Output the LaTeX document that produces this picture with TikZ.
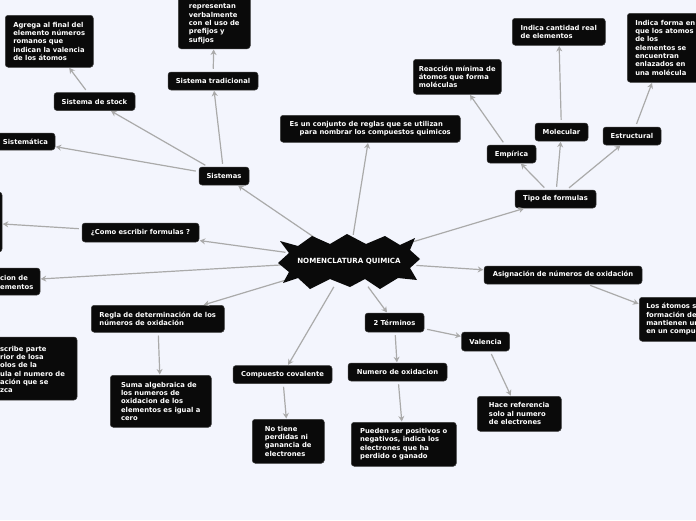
\documentclass[tikz,border=0pt]{standalone}
\usepackage{fontspec}
\setmainfont{DejaVu Sans}
\usetikzlibrary{arrows.meta,shapes.geometric}
\definecolor{bg}{RGB}{243,245,253}
\definecolor{boxc}{RGB}{10,10,10}
\definecolor{boxb}{RGB}{60,60,60}
\definecolor{edgec}{RGB}{170,170,170}
\tikzset{
  bx/.style={fill=boxc, draw=boxb, line width=0.5pt, rounded corners=3pt, text=white,
    font=\bfseries\fontsize{6.8}{8.33}\selectfont, inner xsep=7pt, inner ysep=5pt, align=left},
  sgl/.style={bx, inner ysep=0pt, align=center},
  txt/.style={text=white, font=\bfseries\fontsize{6.8}{8.33}\selectfont, inner sep=0pt, align=left},
  ed/.style={draw=edgec, line width=1.2pt, -{Stealth[length=5.5pt,width=6pt]}, shorten <=3pt, shorten >=0.5pt}
}
\begin{document}
\begin{tikzpicture}[x=1pt,y=-1pt]
\useasboundingbox (0,0) rectangle (696,520);
\clip (0,0) rectangle (696,520);
\fill[bg] (0,0) rectangle (696,520);

% central hub (outline drawn after the connectors)
\node[ellipse, minimum width=146pt, minimum height=60pt, inner sep=0pt] (c) at (349,261) {};

% top center
\node[bx, anchor=north west, inner xsep=5pt, minimum width=180pt, minimum height=27pt] (conj) at (280,115)
  {Es un conjunto de reglas que se utilizan\\\hspace*{10pt}para nombrar los compuestos quimicos};

% Sistemas branch
\node[sgl, minimum width=50pt, minimum height=18pt] (sist) at (224,176) {Sistemas};
\node[sgl, minimum width=90pt, minimum height=18pt] (trad) at (213,81) {Sistema tradicional};
\node[bx, anchor=south west, inner xsep=8pt, minimum width=72pt] (tradd) at (178,49)
  {Estos se\\representan\\verbalmente\\con el uso de\\prefijos y\\sufijos};
\node[sgl, minimum width=81pt, minimum height=18pt] (stock) at (94.5,101.5) {Sistema de stock};
\node[bx, anchor=north west, minimum width=88pt, minimum height=52pt] (agrega) at (5,15)
  {Agrega al final del\\elemento números\\romanos que\\indican la valencia\\de los átomos};
\node[sgl, minimum width=59pt, minimum height=17pt] (sistem) at (25.5,141.5) {Sistemática};

% left branches
\node[sgl, minimum width=117pt, minimum height=19pt] (como) at (140.5,232.5) {¿Como escribir formulas ?};
\node[bx, minimum width=62pt, minimum height=60pt] (lbox) at (-29,222) {};
\node[bx, minimum width=86pt, minimum height=27pt] (cion) at (-3,281.5) {};
\node[txt, anchor=west] (ciont) at (0,282.5) {cion de\\ementos};
\node[bx, minimum width=160pt, minimum height=63pt] (escr) at (-3,368.5) {};
\node[txt, anchor=west] (escrt) at (0,369.5)
  {scribe parte\\rior de losa\\olos de la\\ula el numero de\\ación que se\\zca};
\node[bx, anchor=north west, minimum width=133pt, minimum height=27pt] (regla) at (91,305)
  {Regla de determinación de los\\números de oxidación};
\node[bx, anchor=north west, minimum width=101pt, minimum height=52pt] (suma) at (110,375)
  {Suma algebraica de\\los numeros de\\oxidacion de los\\elementos es igual a\\cero};

% bottom
\node[sgl, minimum width=99pt, minimum height=18pt] (cov) at (282.5,374.5) {Compuesto covalente};
\node[bx, anchor=north west, minimum width=72pt, minimum height=44pt] (notiene) at (252,419)
  {No tiene\\perdidas ni\\ganancia de\\electrones};
\node[sgl, minimum width=59pt, minimum height=19pt] (dos) at (394.5,322.5) {2 Términos};
\node[sgl, minimum width=99pt, minimum height=18pt] (numox) at (397.5,372) {Numero de oxidacion};
\node[bx, anchor=north west, minimum width=105pt, minimum height=44pt] (pueden) at (351,422)
  {Pueden ser positivos o\\negativos, indica los\\electrones que ha\\perdido o ganado};
\node[sgl, minimum width=48pt, minimum height=19pt] (val) at (485.5,341.5) {Valencia};
\node[bx, anchor=north west, minimum width=84pt, minimum height=35pt] (hace) at (477,396)
  {Hace referencia\\solo al numero\\de electrones};

% right
\node[sgl, minimum width=81pt, minimum height=18pt] (tipo) at (555.5,199) {Tipo de formulas};
\node[sgl, minimum width=49pt, minimum height=18pt] (emp) at (511.5,154) {Empírica};
\node[bx, anchor=north west, inner xsep=4pt, minimum width=88pt, minimum height=35pt] (reac) at (413,59)
  {Reacción mínima de\\átomos que forma\\moléculas};
\node[sgl, minimum width=53pt, minimum height=18pt] (mol) at (561.5,132) {Molecular};
\node[bx, anchor=north west, minimum width=93pt, minimum height=27pt] (cant) at (512,18)
  {Indica cantidad real\\de elementos};
\node[sgl, minimum width=58pt, minimum height=18pt] (estr) at (632,136) {Estructural};
\node[bx, anchor=north west, inner xsep=8pt, minimum height=69pt] (forma) at (627,13)
  {Indica forma en\\que los atomos\\de los\\elementos se\\encuentran\\enlazados en\\una molécula};
\node[sgl, minimum width=158pt, minimum height=18pt] (asig) at (563,275) {Asignación de números de oxidación};
\node[bx, anchor=north west, minimum height=44pt] (losat) at (639,297)
  {Los átomos se\\formación de\\mantienen un\\en un compuesto};

% edges
\draw[ed, shorten <=-4pt] (c) -- (conj);
\draw[ed, shorten <=-6pt] (c) -- (sist);
\draw[ed] (sist) -- (trad);
\draw[ed] (trad) -- (tradd);
\draw[ed] (sist) -- (stock);
\draw[ed] (stock) -- (agrega);
\draw[ed] (sist) -- (sistem);
\draw[ed, shorten <=-6pt] (c) -- (como);
\draw[ed] (como) -- (lbox);
\draw[ed, shorten <=-4pt] (c) -- (cion);
\draw[ed] (cion) -- (escr);
\draw[ed, shorten <=-16pt] (c) -- (regla);
\draw[ed] (regla) -- (suma);
\draw[ed, shorten <=-4pt] (c) -- (cov);
\draw[ed] (cov) -- (notiene);
\draw[ed, shorten <=-4pt] (c) -- (dos);
\draw[ed] (dos) -- (numox);
\draw[ed] (numox) -- (pueden);
\draw[ed] (dos) -- (val);
\draw[ed] (val) -- (hace);
\draw[ed, shorten <=-19pt] (c) -- (tipo);
\draw[ed] (tipo) -- (emp);
\draw[ed] (emp) -- (reac);
\draw[ed] (tipo) -- (mol);
\draw[ed] (mol) -- (cant);
\draw[ed] (tipo) -- (estr);
\draw[ed] (estr) -- (forma);
\draw[ed, shorten <=-5pt] (c) -- (asig);
\draw[ed] (asig) -- (losat);

% central starburst, over the connector ends
\fill[boxc] (278,263) -- (289,253) -- (280,241) -- (298,246) -- (312,236) -- (330,244) -- (347,234)
  -- (366,244) -- (385,236) -- (400,245) -- (415,238) -- (410,250) -- (420,259) -- (410,268)
  -- (417,280) -- (398,278) -- (380,289) -- (365,279) -- (350,287) -- (330,279) -- (310,289)
  -- (298,278) -- (283,283) -- (289,272) -- cycle;
\node[text=white, inner sep=0pt, font=\bfseries\fontsize{7.1}{8.5}\selectfont] (ct) at (c.center)
  {NOMENCLATURA QUIMICA};
\end{tikzpicture}
\end{document}
